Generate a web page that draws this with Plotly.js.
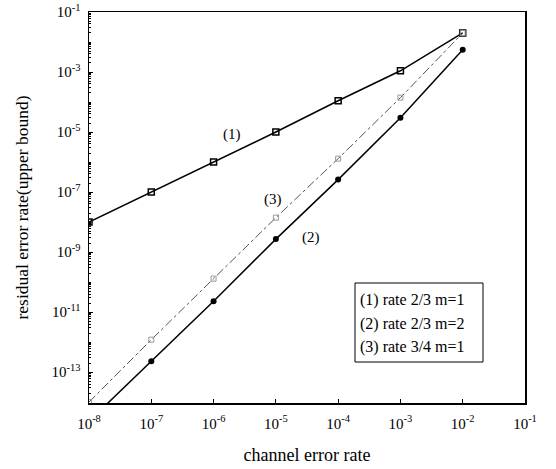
<!DOCTYPE html>
<html>
<head>
<meta charset="utf-8">
<script src="https://cdn.plot.ly/plotly-3.0.1.min.js"></script>
<style>html,body{margin:0;padding:0;background:#fff;}#chart{width:556px;height:469px;}</style>
</head>
<body>
<div id="chart"></div>
<script>
const channelErrorRate = [1e-8, 1e-7, 1e-6, 1e-5, 1e-4, 1e-3, 1e-2];
const series1 = [1e-8, 1e-7, 1e-6, 1e-5, 1.1e-4, 1.1e-3, 2e-2];      // (1) rate 2/3 m=1
const series2 = [2.3e-15, 2.3e-13, 2.3e-11, 2.7e-9, 2.6e-7, 3e-5, 5.5e-3]; // (2) rate 2/3 m=2
const series3 = [1e-14, 1.2e-12, 1.3e-10, 1.4e-8, 1.3e-6, 1.4e-4, 2e-2]; // (3) rate 3/4 m=1
const legendLabels = ["(1) rate 2/3 m=1", "(2) rate 2/3 m=2", "(3) rate 3/4 m=1"];
const curveTags = ["(1)", "(2)", "(3)"];
const tagX = [2e-6, 3.6e-5, 9e-6];
const tagY = [8e-6, 3.1e-9, 5.6e-8];
const xTickVals = [1e-8, 1e-7, 1e-6, 1e-5, 1e-4, 1e-3, 1e-2, 1e-1];
const xTickText = ["10<sup>-8</sup>", "10<sup>-7</sup>", "10<sup>-6</sup>", "10<sup>-5</sup>", "10<sup>-4</sup>", "10<sup>-3</sup>", "10<sup>-2</sup>", "10<sup>-1</sup>"];
const yTickVals = [1e-13, 1e-11, 1e-9, 1e-7, 1e-5, 1e-3, 1e-1];
const yTickText = ["10<sup>-13</sup>", "10<sup>-11</sup>", "10<sup>-9</sup>", "10<sup>-7</sup>", "10<sup>-5</sup>", "10<sup>-3</sup>", "10<sup>-1</sup>"];

const font = {family: "Liberation Serif, Times New Roman, serif", color: "#000"};
const f = s => Object.assign({size: s}, font);

const traces = [
  {x: channelErrorRate, y: series1, mode: "lines+markers", type: "scatter",
   line: {color: "#000", width: 1.5},
   marker: {symbol: "square-open", size: 6, color: "#000", line: {width: 1.5}}},
  {x: channelErrorRate, y: series2, mode: "lines+markers", type: "scatter",
   line: {color: "#000", width: 1.5},
   marker: {symbol: "circle", size: 6, color: "#000"}},
  {x: channelErrorRate, y: series3, mode: "lines+markers", type: "scatter",
   line: {color: "#555", width: 1, dash: "dashdot"},
   marker: {symbol: "square-open", size: 5, color: "#999", line: {width: 1}}}
];

const layout = {
  width: 556, height: 469,
  margin: {l: 89, r: 31, t: 12, b: 66},
  paper_bgcolor: "#fff", plot_bgcolor: "#fff",
  showlegend: false,
  font: f(15),
  xaxis: {
    type: "log", range: [-8, -1],
    tickvals: xTickVals, ticktext: xTickText,
    ticks: "inside", ticklen: 4, tickcolor: "#000",
    ticklabelstandoff: 6,
    showgrid: false, zeroline: false,
    showline: true, linecolor: "#000", linewidth: 1.5, mirror: true,
    tickfont: f(15),
    title: {text: "channel error rate", font: f(18), standoff: 18}
  },
  yaxis: {
    type: "log", range: [-14.03, -1],
    tickvals: yTickVals, ticktext: yTickText,
    ticks: "inside", ticklen: 4, tickcolor: "#000",
    ticklabelstandoff: 4,
    minor: {ticks: "inside", ticklen: 2, tickcolor: "#000", dtick: "D1", showgrid: false},
    showgrid: false, zeroline: false,
    showline: true, linecolor: "#000", linewidth: 1.5, mirror: true,
    tickfont: f(15),
    title: {text: "residual error rate(upper bound)", font: f(17.5), standoff: 18}
  },
  annotations: [],
  shapes: [
    {type: "rect", xref: "paper", yref: "paper",
     x0: (355 - 89) / 436, x1: (483 - 89) / 436,
     y0: (403 - 362) / 391, y1: (403 - 283) / 391,
     line: {color: "#000", width: 1}, fillcolor: "#fff", layer: "above"}
  ]
};

curveTags.forEach((t, i) => {
  layout.annotations.push({
    x: Math.log10(tagX[i]), y: Math.log10(tagY[i]), xref: "x", yref: "y",
    text: t, showarrow: false, font: f(15)
  });
});

legendLabels.forEach((t, i) => {
  layout.annotations.push({
    xref: "paper", yref: "paper", xanchor: "left", yanchor: "middle",
    x: (358 - 89) / 436, y: (403 - (300 + i * 23.5)) / 391,
    text: t, showarrow: false, font: f(16)
  });
});

Plotly.newPlot("chart", traces, layout, {staticPlot: true, displayModeBar: false});
</script>
</body>
</html>
